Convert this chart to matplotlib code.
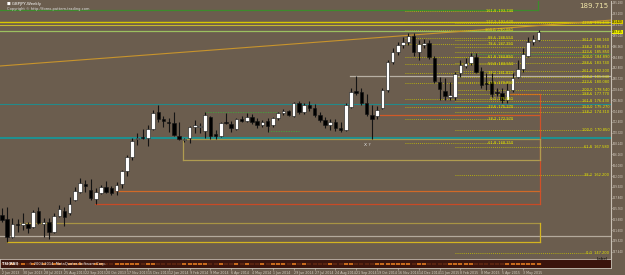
import numpy as np
import pandas as pd
import matplotlib
matplotlib.use('Agg')
import matplotlib.pyplot as plt

bg = '#6b5d4e'
narrow = ['Liberation Sans Narrow', 'DejaVu Sans']

# weekly candles GBPJPY
opens = [154.50, 153.74, 150.27, 152.77, 152.68, 152.77, 152.20, 155.27, 152.77, 153.16,
         151.24, 154.31, 155.27, 154.89, 157.39, 158.93, 160.47, 159.31, 157.58, 158.73,
         159.89, 159.70, 159.12, 160.47, 162.97, 165.66, 169.12, 169.50, 169.31, 171.04,
         174.31, 172.97, 172.39, 172.20, 169.70, 168.93, 169.31, 171.43, 171.43, 170.66,
         173.35, 170.08, 169.70, 172.39, 172.00, 171.04, 172.97, 172.58, 173.35, 172.58,
         171.81, 172.58, 171.81, 173.16, 174.12, 174.50, 173.54, 176.04, 174.31, 175.66,
         175.08, 173.73, 172.77, 171.81, 172.39, 171.23, 170.85, 175.27, 178.35, 178.16,
         176.04, 173.73, 173.54, 175.08, 178.54, 183.93, 185.85, 187.20, 187.78, 188.93,
         185.85, 187.20, 187.58, 184.70, 180.08, 178.35, 177.20, 177.20, 181.81, 183.16,
         183.74, 184.89, 182.20, 179.89, 180.08, 178.16, 177.97, 176.62, 178.54, 181.04,
         182.58, 185.08, 187.78, 188.16]
highs = [155.85, 156.04, 153.93, 153.74, 154.89, 153.16, 155.47, 156.04, 153.93, 153.93,
         154.89, 156.43, 156.04, 157.97, 159.89, 161.62, 161.24, 161.43, 159.70, 160.27,
         161.04, 160.08, 160.85, 163.16, 166.04, 169.31, 170.27, 171.04, 171.81, 174.70,
         175.66, 173.54, 173.16, 174.31, 172.39, 169.31, 171.62, 172.77, 172.20, 174.31,
         173.54, 170.85, 172.39, 174.12, 172.58, 173.16, 173.54, 174.12, 173.93, 173.16,
         172.77, 173.16, 173.35, 174.31, 174.89, 174.70, 176.24, 176.43, 176.04, 176.43,
         175.85, 174.31, 173.35, 172.97, 172.97, 172.39, 176.04, 178.93, 181.24, 178.93,
         177.77, 175.66, 175.47, 178.93, 184.31, 186.62, 187.78, 188.74, 189.50, 189.50,
         188.16, 188.35, 188.16, 185.08, 181.04, 180.85, 180.08, 182.00, 184.31, 184.70,
         185.66, 185.66, 182.97, 181.81, 181.81, 178.93, 178.93, 179.89, 181.81, 184.31,
         186.62, 188.74, 189.12, 190.08]
lows = [153.16, 149.31, 150.08, 151.24, 151.62, 151.04, 152.00, 152.77, 150.27, 149.89,
        151.04, 154.12, 152.39, 154.50, 157.20, 158.73, 158.93, 157.39, 156.62, 158.54,
        158.73, 158.35, 158.35, 159.70, 162.01, 165.08, 167.97, 169.12, 167.77, 170.85,
        172.39, 171.43, 170.47, 169.70, 168.93, 168.54, 168.35, 170.27, 170.27, 169.31,
        169.12, 169.12, 169.50, 172.00, 170.47, 170.85, 172.39, 172.39, 172.00, 171.23,
        171.43, 170.47, 171.43, 172.77, 173.73, 173.54, 173.35, 173.93, 173.93, 174.50,
        173.35, 172.39, 171.23, 170.85, 170.66, 170.47, 170.66, 175.08, 177.58, 175.66,
        173.54, 169.12, 172.97, 174.89, 178.16, 183.55, 185.28, 186.62, 187.20, 185.08,
        184.31, 186.62, 184.51, 179.89, 176.62, 176.62, 176.62, 176.62, 181.04, 182.78,
        183.35, 181.81, 178.93, 178.54, 177.20, 177.39, 176.04, 176.04, 178.16, 180.85,
        182.00, 184.89, 187.20, 187.97]
closes = [153.54, 150.27, 152.77, 152.68, 152.97, 152.00, 155.08, 152.97, 153.16, 151.24,
          154.31, 155.66, 154.12, 156.62, 159.12, 160.66, 160.18, 157.77, 158.93, 159.89,
          158.93, 158.73, 160.27, 162.97, 165.66, 168.73, 169.31, 169.31, 171.04, 174.12,
          172.97, 172.58, 172.20, 169.89, 169.12, 169.12, 171.43, 171.81, 171.62, 173.73,
          169.70, 169.70, 172.20, 172.20, 171.23, 172.97, 172.58, 173.35, 172.39, 171.81,
          172.39, 171.62, 173.16, 174.12, 174.50, 173.73, 176.04, 174.31, 175.66, 175.08,
          173.73, 172.77, 171.81, 172.39, 171.23, 170.85, 175.66, 178.16, 177.97, 176.04,
          173.93, 172.97, 174.70, 178.54, 183.93, 185.85, 187.20, 187.78, 188.93, 185.85,
          187.39, 187.58, 184.89, 180.27, 178.74, 177.39, 177.58, 181.62, 183.35, 183.74,
          185.08, 182.00, 179.50, 179.70, 177.77, 177.97, 176.62, 178.54, 180.85, 182.58,
          185.47, 187.78, 188.35, 189.70]

last_price = 189.715

# full width horizontal lines
hline_prices = [191.62, 191.04, 189.89, 175.85, 169.31, 150.47]
hline_colors = ['#d8c800', '#c8b830', '#9cc060', '#238a8a', '#1f9090', '#b4aa9c']
hline_widths = [1.0, 0.8, 0.9, 0.8, 1.5, 0.9]

# partial lines: price, from bar, to bar, colour
seg_prices = [193.93, 181.24, 173.73, 177.77, 159.12, 156.62, 152.97, 149.31, 169.12, 165.08]
seg_start = [-1, 66.8, 72.6, 97.5, 21.7, 17.9, 3.5, 1.0, 34.7, 34.7]
seg_end = [102.9, 117.5, 103.3, 103.3, 103.3, 103.3, 103.3, 103.3, 103.3, 103.3]
seg_colors = ['#3c8c2c', '#b8b0a4', '#d05a28', '#d05028', '#d06a28', '#c84a26',
              '#a89444', '#d4b420', '#a8964c', '#b09c50']

# vertical edges of boxes
vert_bars = [102.9, 103.3, 103.3, 34.7, 103.3]
vert_lo = [193.93, 156.62, 149.31, 165.08, 165.08]
vert_hi = [197.0, 177.77, 152.97, 169.12, 169.12]
vert_colors = ['#3c8c2c', '#d05028', '#d4b420', '#b09c50', '#b09c50']

# trend line
trend_bars = [-0.4, 117.1]
trend_prices = [183.16, 192.00]

# green dotted levels
gdot_prices = [185.47, 174.31, 170.66]
gdot_start = [89.8, 39.0, 51.0]
gdot_end = [117.5, 53.0, 57.0]

# fibonacci set A
fibA_ratio = ['161.8', '127.2', '100.0', '88.6', '78.6', '61.8', '50.0', '38.2',
              '23.6', '0.0', '-23.6', '-38.2', '-61.8']
fibA_price = [193.74, 191.62, 190.08, 188.55, 187.39, 184.89, 183.55, 181.81,
              179.89, 176.82, 175.27, 172.97, 168.35]
# fibonacci set B
fibB_ratio = ['423.6', '361.8', '338.2', '323.6', '300.0', '288.6', '261.8', '238.2',
              '223.6', '200.0', '188.6', '161.8', '150.0', '138.2', '100.0', '61.8',
              '38.2', '0.0']
fibB_price = [191.43, 188.16, 186.81, 185.85, 184.89, 183.74, 182.20, 181.04,
              180.08, 178.54, 177.77, 176.43, 175.27, 174.31, 170.85, 167.58,
              162.20, 147.20]

W, H = 625, 275
fig = plt.figure(figsize=(W / 100, H / 100), dpi=100, facecolor=bg)
ax = fig.add_axes([0, 17 / H, 611 / W, 257 / H], facecolor=bg)
ind = fig.add_axes([0, 7 / H, 611 / W, 9 / H], facecolor='#3a140c')

x = np.arange(len(opens))
o = np.array(opens); c = np.array(closes)
h = np.array(highs); l = np.array(lows)
up = c >= o

ax.vlines(x, l, h, color='#141414', lw=0.8, zorder=5)
body_lo = np.minimum(o, c)
body_h = np.maximum(np.abs(c - o), 0.12)
ax.bar(x[up], body_h[up], bottom=body_lo[up], width=0.68, color='white',
       edgecolor='#141414', linewidth=0.4, zorder=6)
ax.bar(x[~up], body_h[~up], bottom=body_lo[~up], width=0.68, color='black',
       edgecolor='#141414', linewidth=0.4, zorder=6)

xmin, xmax = -0.38, 116.9
for p, col, lw in zip(hline_prices, hline_colors, hline_widths):
    ax.axhline(p, color=col, lw=lw, zorder=2)
for p, a, b, col in zip(seg_prices, seg_start, seg_end, seg_colors):
    ax.plot([a, b], [p, p], color=col, lw=0.9, zorder=2)
for b, lo, hi, col in zip(vert_bars, vert_lo, vert_hi, vert_colors):
    ax.plot([b, b], [lo, hi], color=col, lw=0.9, zorder=2)
ax.plot(trend_bars, trend_prices, color='#c8942c', lw=0.8, zorder=2)
for p, a, b in zip(gdot_prices, gdot_start, gdot_end):
    ax.plot([a, b], [p, p], color='#3fa83a', lw=0.6, ls=(0, (1.5, 1.5)), zorder=3)

for r, p in zip(fibA_ratio, fibA_price):
    ax.plot([77.4, 98.1], [p, p], color='#c8c400', lw=0.6, ls=(0, (1, 1.5)), zorder=3)
    ax.text(98.1, p, f'{r}  {p:.3f}', color='#e6e600', fontsize=2.6, family=narrow,
            ha='right', va='center', zorder=7)
for r, p in zip(fibB_ratio, fibB_price):
    ax.plot([86.9, 113.0], [p, p], color='#c8c400', lw=0.6, ls=(0, (1, 1.5)), zorder=3)
    ax.text(116.6, p, f'{r}  {p:.3f}', color='#e6e600', fontsize=2.6, family=narrow,
            ha='right', va='center', zorder=7)

ax.text(70.2, 168.3, 'X ?', color='#e8e8e8', fontsize=3.2, ha='center', va='top')
ax.text(0.012, 0.995, '\u25a0 GBPJPY,Weekly', transform=ax.transAxes, color='white',
        fontsize=2.8, ha='left', va='top')
ax.text(0.012, 0.975, 'Copyright \u00a9 http://forex-pattern-trading.com',
        transform=ax.transAxes, color='#e0e0e0', fontsize=2.6, ha='left', va='top')
ax.text(0.995, 0.992, f'{last_price:.3f}', transform=ax.transAxes, color='#f2e6a8',
        fontsize=5, ha='right', va='top')

ax.set_xlim(xmin, xmax)
ax.set_ylim(146.24, 195.66)
ax.yaxis.tick_right()
ticks = np.arange(195.28, 146.0, -2.08)
ax.set_yticks(ticks)
ax.set_yticklabels([f'{t:.3f}' for t in ticks], family=narrow)
ax.tick_params(axis='y', colors='#d8d0c4', labelsize=1.9, length=1.0, width=0.5, pad=0.3)
ax.set_xticks([])
for s in ['top', 'left', 'bottom']:
    ax.spines[s].set_visible(False)
ax.spines['right'].set_color('#c8c0b4')
ax.spines['right'].set_linewidth(0.8)

# price tags on the axis
for p, fc in zip([hline_prices[0], last_price], ['#d8c800', '#f0f000']):
    ax.text(1.0015, p, f'{p:.3f}', transform=ax.get_yaxis_transform(), fontsize=1.9,
            family=narrow, color='black', ha='left', va='center', clip_on=False,
            bbox=dict(boxstyle='square,pad=0.1', fc=fc, ec='none'))

fig.text(597 / W, 1 - 259 / H, 'Label', color='black', fontsize=3, ha='left', va='center')

# small indicator window
ind.set_xlim(xmin, xmax)
ind.set_ylim(0, 1)
ind.vlines(x[up], 0.35, 0.55, color='#c86a1c', lw=3)
ind.vlines(x[~up], 0.35, 0.55, color='#5a2410', lw=3)
ind.text(0.003, 0.45, 'TSI(RSI)', transform=ind.transAxes, color='white',
         fontsize=2.6, fontweight='bold', va='center')
ind.text(0.048, 0.45, '\u00a9 2004-2014, MetaQuotes Software Corp.',
         transform=ind.transAxes, color='#e8e8e8', fontsize=2.6, va='center')
for s in ind.spines.values():
    s.set_color('#c8c0b4')
    s.set_linewidth(0.6)
ind.set_yticks([])
weeks = pd.date_range('2013-06-02', periods=len(opens), freq='7D')
pos = x[::4]
ind.set_xticks(pos)
ind.set_xticklabels([f'{d.day} {d:%b %Y}' for d in weeks[::4]], ha='left', family=narrow)
ind.tick_params(axis='x', colors='#d8d0c4', labelsize=2.3, length=1.5, width=0.4, pad=0.5)

fig.savefig('out.png', dpi=100, facecolor=bg)
